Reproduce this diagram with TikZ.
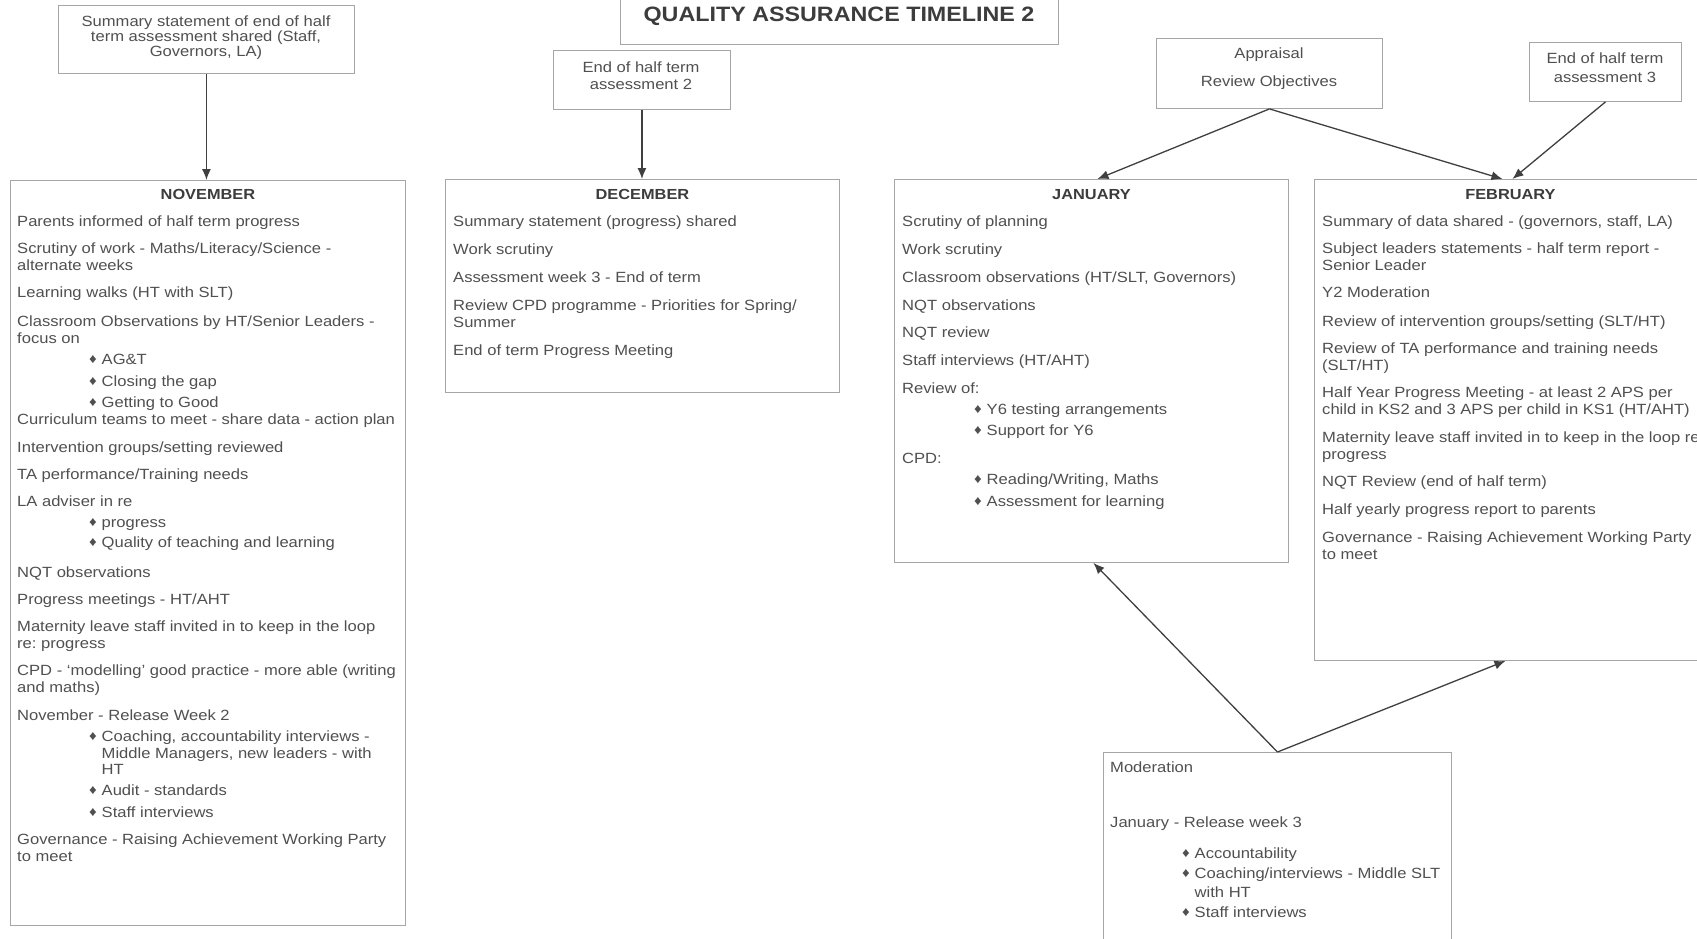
\documentclass[tikz,border=0pt]{standalone}
\usepackage{fontspec}
\setmainfont{Liberation Sans}[FakeStretch=1.12]
\usetikzlibrary{arrows.meta,calc}
\frenchspacing
\definecolor{txtgray}{HTML}{505050}
\definecolor{headgray}{HTML}{3C3C3C}
\definecolor{boxgray}{HTML}{A6A6A6}
\definecolor{arrgray}{HTML}{404040}
\newcommand\fl{\rule{0pt}{12pt}}
\newcommand\bul{\raisebox{0.8pt}{\fontsize{13.5}{13}\selectfont ♦}}
\newcommand\itm[1]{\hspace*{72pt}\makebox[12.5pt][l]{\bul}#1}
\newcommand\cnt[1]{\hspace*{84.5pt}#1}
\tikzset{
  box/.style={draw=boxgray, line width=0.9pt, inner sep=0pt, anchor=north west},
  txt/.style={text=txtgray, font=\fontsize{14.8}{17}\selectfont, align=left, inner sep=0pt, anchor=north west},
  ctxt/.style={text=txtgray, font=\fontsize{14.8}{17}\selectfont, align=center, inner sep=0pt, anchor=north},
  head/.style={text=headgray, font=\fontsize{14.6}{17}\selectfont\bfseries, inner sep=0pt, anchor=base},
  arr/.style={draw=arrgray, line width=1.3pt, -{Latex[length=11pt,width=9pt]}}
}
\begin{document}
\begin{tikzpicture}[x=1pt,y=-1pt]
\useasboundingbox (0,0) rectangle (1697,938);
\fill[white] (0,0) rectangle (1697,938);

% title
\node[box, minimum width=438pt, minimum height=49pt] (title) at (620,-5) {};
\node[text=headgray, inner sep=0pt, anchor=base, font=\fontsize{20.8}{22}\selectfont\bfseries] (titletext) at (839,21) {QUALITY ASSURANCE TIMELINE 2};

% small boxes
\node[box, minimum width=296pt, minimum height=68pt] (sum) at (58,5) {};
\node[ctxt, font=\fontsize{14.8}{15}\selectfont] (sumt) at (206,14) {\fl Summary statement of end of half\\term assessment shared (Staff,\\Governors, LA)};

\node[box, minimum width=177pt, minimum height=59pt] (eoht2) at (553,50) {};
\node[ctxt] (eoht2t) at (641,60) {\fl End of half term\\assessment 2};

\node[box, minimum width=226pt, minimum height=70pt] (app) at (1156,38) {};
\node[ctxt] (appt) at (1269,46) {\fl Appraisal\\[11pt]Review Objectives};

\node[box, minimum width=152pt, minimum height=59pt] (eoht3) at (1529,42) {};
\node[ctxt] (eoht3t) at (1605,51) {\fl End of half term\\[2pt]assessment 3};

% month boxes
\node[box, minimum width=395pt, minimum height=745pt] (nov) at (10,180) {};
\node[head] (novh) at ($(nov.north)+(0,19)$) {NOVEMBER};
\node[txt] (novt) at (17,214) {\fl Parents informed of half term progress\\[10.5pt]
Scrutiny of work - Maths/Literacy/Science -\\
alternate weeks\\[10pt]
Learning walks (HT with SLT)\\[12pt]
Classroom Observations by HT/Senior Leaders -\\
focus on\\[4pt]
\itm{AG\&T}\\[4.5pt]
\itm{Closing the gap}\\[4pt]
\itm{Getting to Good}\\
Curriculum teams to meet - share data - action plan\\[11pt]
Intervention groups/setting reviewed\\[10.5pt]
TA performance/Training needs\\[10pt]
LA adviser in re\\[4pt]
\itm{progress}\\[3pt]
\itm{Quality of teaching and learning}\\[12.5pt]
NQT observations\\[10.5pt]
Progress meetings - HT/AHT\\[10pt]
Maternity leave staff invited in to keep in the loop\\
re: progress\\[10pt]
CPD - ‘modelling’ good practice - more able (writing\\
and maths)\\[10.5pt]
November - Release Week 2\\[4pt]
\itm{Coaching, accountability interviews -}\\
\cnt{Middle Managers, new leaders - with}\\[-0.5pt]
\cnt{HT}\\[4pt]
\itm{Audit - standards}\\[4.5pt]
\itm{Staff interviews}\\[10.5pt]
Governance - Raising Achievement Working Party\\[-0.5pt]
to meet};

\node[box, minimum width=394pt, minimum height=213pt] (dec) at (445,179) {};
\node[head] (dech) at ($(dec.north)+(0,20)$) {DECEMBER};
\node[txt] (dect) at (453,214.5) {\fl Summary statement (progress) shared\\[10.5pt]
Work scrutiny\\[11pt]
Assessment week 3 - End of term\\[11pt]
Review CPD programme - Priorities for Spring/\\
Summer\\[11pt]
End of term Progress Meeting};

\node[box, minimum width=394pt, minimum height=383pt] (jan) at (894,179) {};
\node[head] (janh) at ($(jan.north)+(0,20)$) {JANUARY};
\node[txt] (jant) at (902,214.5) {\fl Scrutiny of planning\\[10.5pt]
Work scrutiny\\[11pt]
Classroom observations (HT/SLT, Governors)\\[11pt]
NQT observations\\[10pt]
NQT review\\[11pt]
Staff interviews (HT/AHT)\\[11pt]
Review of:\\[4pt]
\itm{Y6 testing arrangements}\\[4pt]
\itm{Support for Y6}\\[11pt]
CPD:\\[4pt]
\itm{Reading/Writing, Maths}\\[5pt]
\itm{Assessment for learning}};

\node[box, minimum width=392pt, minimum height=481pt] (feb) at (1314,179) {};
\node[head] (febh) at ($(feb.north)+(0,20)$) {FEBRUARY};
\node[txt] (febt) at (1322,214.5) {\fl Summary of data shared - (governors, staff, LA)\\[10pt]
Subject leaders statements - half term report -\\
Senior Leader\\[9.5pt]
Y2 Moderation\\[12pt]
Review of intervention groups/setting (SLT/HT)\\[10pt]
Review of TA performance and training needs\\
(SLT/HT)\\[10pt]
Half Year Progress Meeting - at least 2 APS per\\
child in KS2 and 3 APS per child in KS1 (HT/AHT)\\[11pt]
Maternity leave staff invited in to keep in the loop re:\\
progress\\[10pt]
NQT Review (end of half term)\\[11pt]
Half yearly progress report to parents\\[11pt]
Governance - Raising Achievement Working Party\\
to meet};

\node[box, minimum width=348pt, minimum height=210pt] (mod) at (1103,752) {};
\node[txt] (modt) at (1110,760) {\fl Moderation\\[38pt]
January - Release week 3\\[14pt]
\itm{Accountability}\\[3pt]
\itm{Coaching/interviews - Middle SLT}\\[2pt]
\cnt{with HT}\\[3pt]
\itm{Staff interviews}};

% connectors
\draw[arr] (sum.south) -- (sum.south |- nov.north);
\draw[arr] (eoht2.south) -- (eoht2.south |- dec.north);
\draw[arr] (app.south) -- ($(jan.north)+(6,0)$);
\draw[arr] (app.south) -- ($(feb.north)+(-8,0)$);
\draw[arr] (eoht3.south) -- ($(feb.north)+(2,0)$);
\draw[arr] (mod.north) -- ($(jan.south)+(2,0)$);
\draw[arr] (mod.north) -- ($(feb.south)+(-5,0)$);
\end{tikzpicture}
\end{document}
